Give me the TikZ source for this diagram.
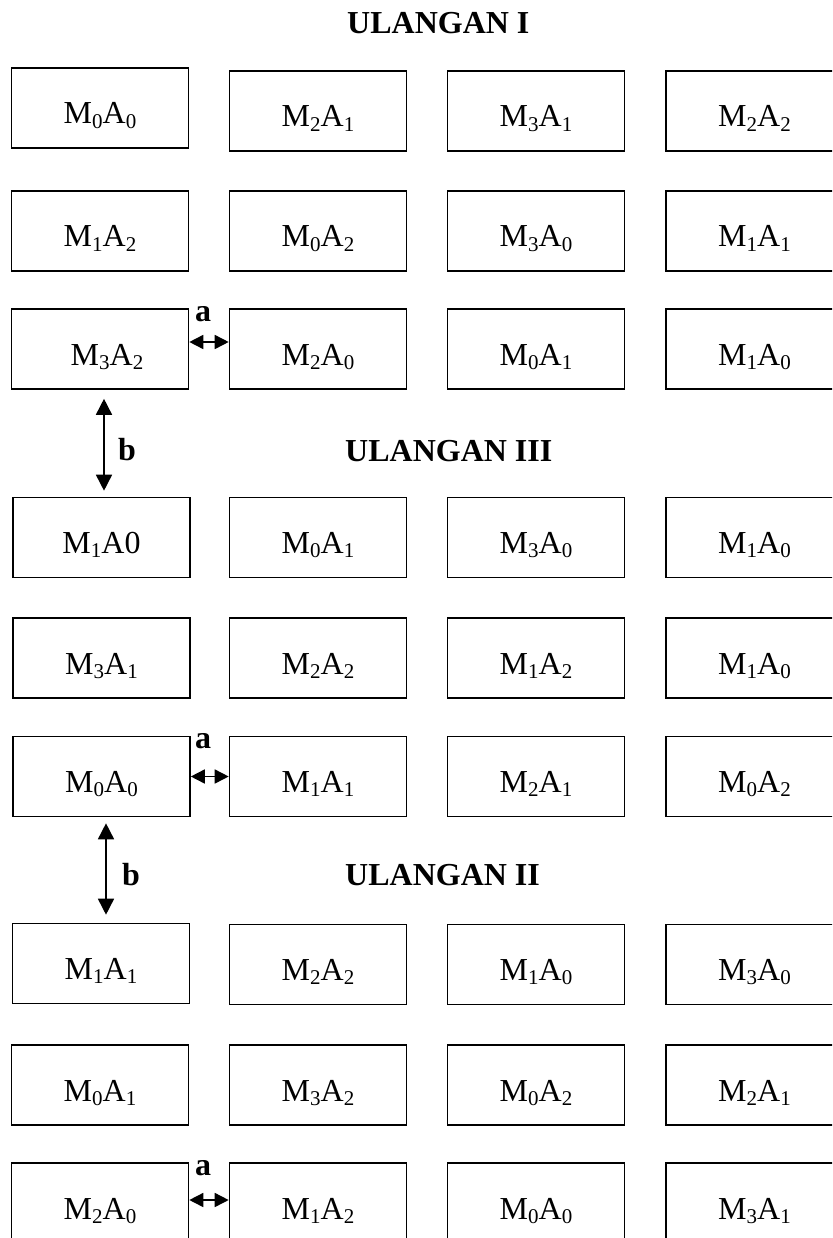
\documentclass[tikz,border=0pt]{standalone}
\usepackage{fontspec}
\setmainfont{Liberation Serif}
\usetikzlibrary{arrows.meta}
\newcommand\lowsb[1]{\raisebox{-0.13em}{\fontsize{21}{21}\selectfont #1}}
\newcommand\MA[2]{M\lowsb{#1}A\lowsb{#2}}
\begin{document}
\begin{tikzpicture}[x=1pt,y=-1pt,
  cellbox/.style={draw, line width=1.6pt, minimum width=177pt, minimum height=80pt,
    inner sep=0pt, text height=34pt, text depth=2pt, font=\fontsize{32}{38}\selectfont},
  head/.style={anchor=base west, inner sep=0pt, font=\fontsize{32}{38}\selectfont\bfseries},
  lbl/.style={anchor=base, inner sep=0pt, font=\fontsize{32}{38}\selectfont\bfseries},
  harrow/.style={line width=1.6pt, {Triangle[length=14pt,width=14pt]}-{Triangle[length=14pt,width=14pt]}},
  varrow/.style={line width=1.6pt, {Triangle[length=16pt,width=16pt]}-{Triangle[length=16pt,width=16pt]}}
]
\useasboundingbox (0,0) rectangle (832,1238);
\clip (0,0) rectangle (832,1238);

% ULANGAN I
\node[head] (h1) at (347,34) {ULANGAN I};
\node[cellbox] (r1c1) at (100,108) {\MA{0}{0}};
\node[cellbox] (r1c2) at (318,111) {\MA{2}{1}};
\node[cellbox] (r1c3) at (536,111) {\MA{3}{1}};
\node[cellbox] (r1c4) at (754.5,111) {\MA{2}{2}};

\node[cellbox] (r2c1) at (100,231) {\MA{1}{2}};
\node[cellbox] (r2c2) at (318,231) {\MA{0}{2}};
\node[cellbox] (r2c3) at (536,231) {\MA{3}{0}};
\node[cellbox] (r2c4) at (754.5,231) {\MA{1}{1}};

\node[cellbox] (r3c1) at (100,349) {\hspace*{14pt}\MA{3}{2}};
\node[cellbox] (r3c2) at (318,349) {\MA{2}{0}};
\node[cellbox] (r3c3) at (536,349) {\MA{0}{1}};
\node[cellbox] (r3c4) at (754.5,349) {\MA{1}{0}};

% ULANGAN III
\node[head] (h3) at (345,461) {ULANGAN III};
\node[cellbox] (r4c1) at (101.5,537.5) {M\lowsb{1}A0};
\node[cellbox] (r4c2) at (318,537.5) {\MA{0}{1}};
\node[cellbox] (r4c3) at (536,537.5) {\MA{3}{0}};
\node[cellbox] (r4c4) at (754.5,537.5) {\MA{1}{0}};

\node[cellbox] (r5c1) at (101.5,658) {\MA{3}{1}};
\node[cellbox] (r5c2) at (318,658) {\MA{2}{2}};
\node[cellbox] (r5c3) at (536,658) {\MA{1}{2}};
\node[cellbox] (r5c4) at (754.5,658) {\MA{1}{0}};

\node[cellbox] (r6c1) at (101.5,776.5) {\MA{0}{0}};
\node[cellbox] (r6c2) at (318,776.5) {\MA{1}{1}};
\node[cellbox] (r6c3) at (536,776.5) {\MA{2}{1}};
\node[cellbox] (r6c4) at (754.5,776.5) {\MA{0}{2}};

% ULANGAN II
\node[head] (h2) at (345,885) {ULANGAN II};
\node[cellbox] (r7c1) at (101,963.5) {\MA{1}{1}};
\node[cellbox] (r7c2) at (318,964.5) {\MA{2}{2}};
\node[cellbox] (r7c3) at (536,964.5) {\MA{1}{0}};
\node[cellbox] (r7c4) at (754.5,964.5) {\MA{3}{0}};

\node[cellbox] (r8c1) at (100,1085) {\MA{0}{1}};
\node[cellbox] (r8c2) at (318,1085) {\MA{3}{2}};
\node[cellbox] (r8c3) at (536,1085) {\MA{0}{2}};
\node[cellbox] (r8c4) at (754.5,1085) {\MA{2}{1}};

\node[cellbox] (r9c1) at (100,1203) {\MA{2}{0}};
\node[cellbox] (r9c2) at (318,1203) {\MA{1}{2}};
\node[cellbox] (r9c3) at (536,1203) {\MA{0}{0}};
\node[cellbox] (r9c4) at (754.5,1203) {\MA{3}{1}};

% a arrows
\node[lbl] (a1) at (203,321) {a};
\draw[harrow] ([yshift=7pt]r3c1.east) -- ([yshift=7pt]r3c2.west);
\node[lbl] (a2) at (203,748) {a};
\draw[harrow] (r6c1.east) -- (r6c2.west);
\node[lbl] (a3) at (203,1175) {a};
\draw[harrow] ([yshift=3pt]r9c1.east) -- ([yshift=3pt]r9c2.west);

% b arrows
\draw[varrow, shorten <=9pt, shorten >=6pt] ([xshift=4pt]r3c1.south) -- ([xshift=2.5pt]r4c1.north);
\node[head] (b1) at (118,460) {b};
\draw[varrow, shorten <=6pt, shorten >=8pt] ([xshift=4.5pt]r6c1.south) -- ([xshift=5pt]r7c1.north);
\node[head] (b2) at (122,885) {b};
\end{tikzpicture}
\end{document}
